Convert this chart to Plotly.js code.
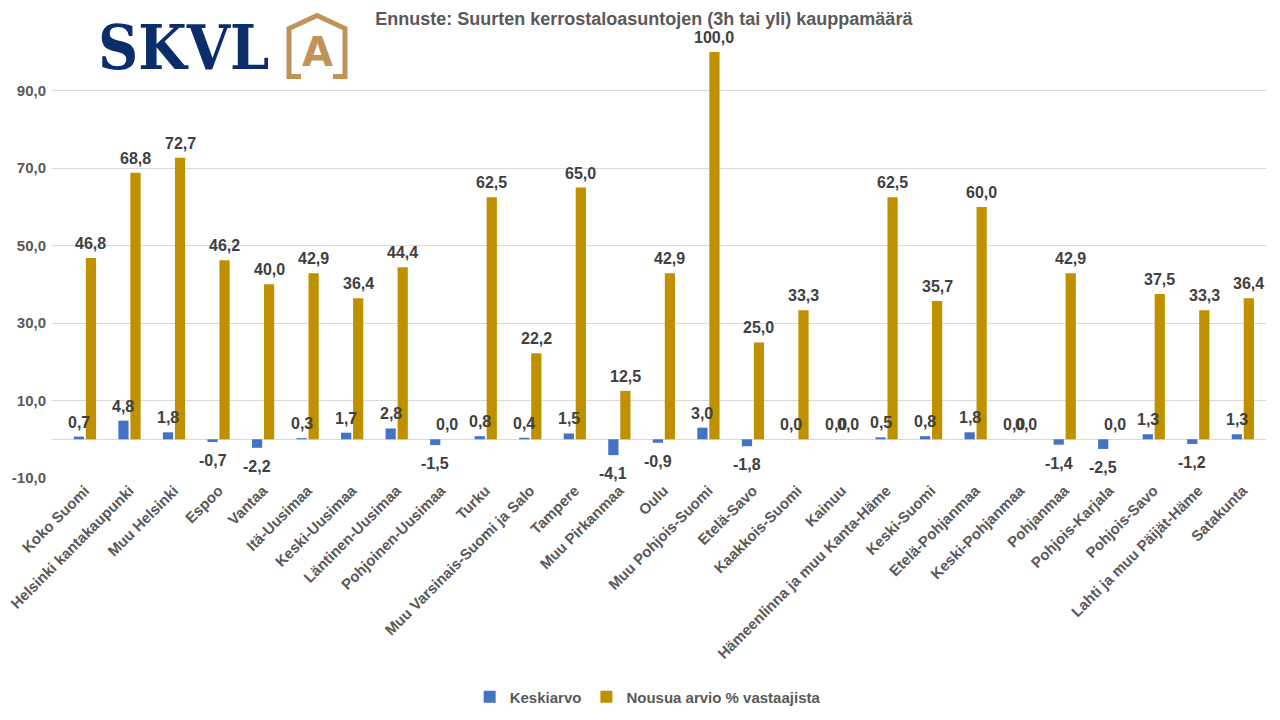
<!DOCTYPE html>
<html>
<head>
<meta charset="utf-8">
<script src="https://cdn.plot.ly/plotly-3.0.1.min.js"></script>
<style>
  html, body { margin: 0; padding: 0; background: #fff; }
  #chart { width: 1280px; height: 720px; }
</style>
</head>
<body>
<div id="chart"></div>
<script>
// alueet
var regions = ['Koko Suomi', 'Helsinki kantakaupunki', 'Muu Helsinki', 'Espoo', 'Vantaa',
  'Itä-Uusimaa', 'Keski-Uusimaa', 'Läntinen-Uusimaa', 'Pohjoinen-Uusimaa', 'Turku',
  'Muu Varsinais-Suomi ja Salo', 'Tampere', 'Muu Pirkanmaa', 'Oulu', 'Muu Pohjois-Suomi',
  'Etelä-Savo', 'Kaakkois-Suomi', 'Kainuu', 'Hämeenlinna ja muu Kanta-Häme', 'Keski-Suomi',
  'Etelä-Pohjanmaa', 'Keski-Pohjanmaa', 'Pohjanmaa', 'Pohjois-Karjala', 'Pohjois-Savo',
  'Lahti ja muu Päijät-Häme', 'Satakunta']

var keskiarvo = [0.7, 4.8, 1.8, -0.7, -2.2, 0.3, 1.7, 2.8, -1.5, 0.8, 0.4, 1.5, -4.1, -0.9, 3.0,
  -1.8, 0.0, 0.0, 0.5, 0.8, 1.8, 0.0, -1.4, -2.5, 1.3, -1.2, 1.3]

var nousua = [46.8, 68.8, 72.7, 46.2, 40.0, 42.9, 36.4, 44.4, 0.0, 62.5, 22.2, 65.0, 12.5, 42.9, 100.0,
  25.0, 33.3, 0.0, 62.5, 35.7, 60.0, 0.0, 42.9, 0.0, 37.5, 33.3, 36.4]

var yTicks = [-10, 10, 30, 50, 70, 90]

function fi(v){ // suomalainen desimaalipilkku
  return v.toFixed(1).replace('.', ',')
}

// pikselit -> paper-koordinaatit (logoa varten)
var L = 52, R = 1266, T = 51.5, B = 478.3
function px(x){ return (x - L) / (R - L) }
function py(y){ return (B - y) / (B - T) }

var idx = regions.map((r, i) => i)
var bargap = 0.46
var slot = (1 - bargap) / 2   // yhden sarjan paikka ryhmässä

var labelFont = { family: 'Liberation Sans, Arial, sans-serif', size: 16, color: '#404040', weight: 'bold' }

var traces = [
  {
    type: 'bar', name: 'Keskiarvo',
    x: idx, y: keskiarvo,
    marker: { color: '#4472C4' }, hoverinfo: 'x+y'
  },
  {
    type: 'bar', name: 'Nousua arvio % vastaajista',
    x: idx, y: nousua,
    marker: { color: '#BF9000' }, hoverinfo: 'x+y'
  }
]

// arvolaput
var labels = []
function addLabels(vals, offset){
  vals.forEach((v, i) => {
    labels.push({
      x: i + offset, y: v, xref: 'x', yref: 'y',
      text: fi(v), showarrow: false, font: labelFont,
      xanchor: 'center',
      yanchor: v < 0 ? 'top' : 'bottom',
      yshift: v < 0 ? -8 : 4
    })
  })
}
addLabels(keskiarvo, -slot / 2)
addLabels(nousua, slot / 2)

var tan = '#C09458'
var layout = {
  width: 1280, height: 720,
  margin: { l: L, r: 1280 - R, t: T, b: 720 - B, pad: 0 },
  paper_bgcolor: '#fff', plot_bgcolor: '#fff',
  barmode: 'group', bargap: bargap, bargroupgap: 0.15,
  font: { family: 'Liberation Sans, Arial, sans-serif', color: '#595959' },
  title: {
    text: 'Ennuste: Suurten kerrostaloasuntojen (3h tai yli) kauppamäärä',
    font: { size: 18, color: '#595959', weight: 'bold' },
    xref: 'container', x: 0.503, xanchor: 'center',
    yref: 'container', y: 1 - 19 / 720, yanchor: 'middle'
  },
  xaxis: {
    range: [-0.74, 26.52],
    tickvals: idx, ticktext: regions,
    tickangle: -45, ticks: '', showgrid: false, zeroline: false, showline: false,
    tickfont: { size: 15, color: '#595959', weight: 'bold' },
    automargin: false
  },
  yaxis: {
    range: [-10, 100],
    tickvals: yTicks, ticktext: yTicks.map(fi),
    ticks: '', showline: false,
    gridcolor: '#D9D9D9', gridwidth: 1,
    zeroline: true, zerolinecolor: '#D9D9D9', zerolinewidth: 1,
    tickfont: { size: 15, color: '#595959', weight: 'bold' },
    ticklabelstandoff: 5,
    automargin: false
  },
  showlegend: true,
  legend: {
    orientation: 'h',
    xref: 'container', x: 0.506, xanchor: 'center',
    yref: 'container', y: 1 - 697 / 720, yanchor: 'middle',
    font: { size: 15, color: '#595959', weight: 'bold' },
    itemwidth: 30, traceorder: 'normal'
  },
  annotations: labels.concat([
    {
      xref: 'paper', yref: 'paper', x: px(96), y: py(47), xanchor: 'left', yanchor: 'middle',
      text: 'SKVL', showarrow: false,
      font: { family: 'DejaVu Serif Condensed, DejaVu Serif, serif', size: 62, color: '#0B2D6B', weight: 'bold' }
    },
    {
      xref: 'paper', yref: 'paper', x: px(317), y: py(52), xanchor: 'center', yanchor: 'middle',
      text: 'A', showarrow: false,
      font: { family: 'DejaVu Sans, sans-serif', size: 40, color: tan, weight: 'bold' }
    }
  ]),
  shapes: [
    {
      type: 'path', xref: 'paper', yref: 'paper',
      path: 'M ' + px(301) + ' ' + py(76) + ' L ' + px(289) + ' ' + py(76) +
            ' L ' + px(289) + ' ' + py(28) + ' L ' + px(317) + ' ' + py(15) +
            ' L ' + px(345) + ' ' + py(28) + ' L ' + px(345) + ' ' + py(76) +
            ' L ' + px(333) + ' ' + py(76),
      line: { color: tan, width: 5 }
    }
  ]
}

Plotly.newPlot(document.getElementById('chart'), traces, layout, { displayModeBar: false, staticPlot: true })
</script>
</body>
</html>
